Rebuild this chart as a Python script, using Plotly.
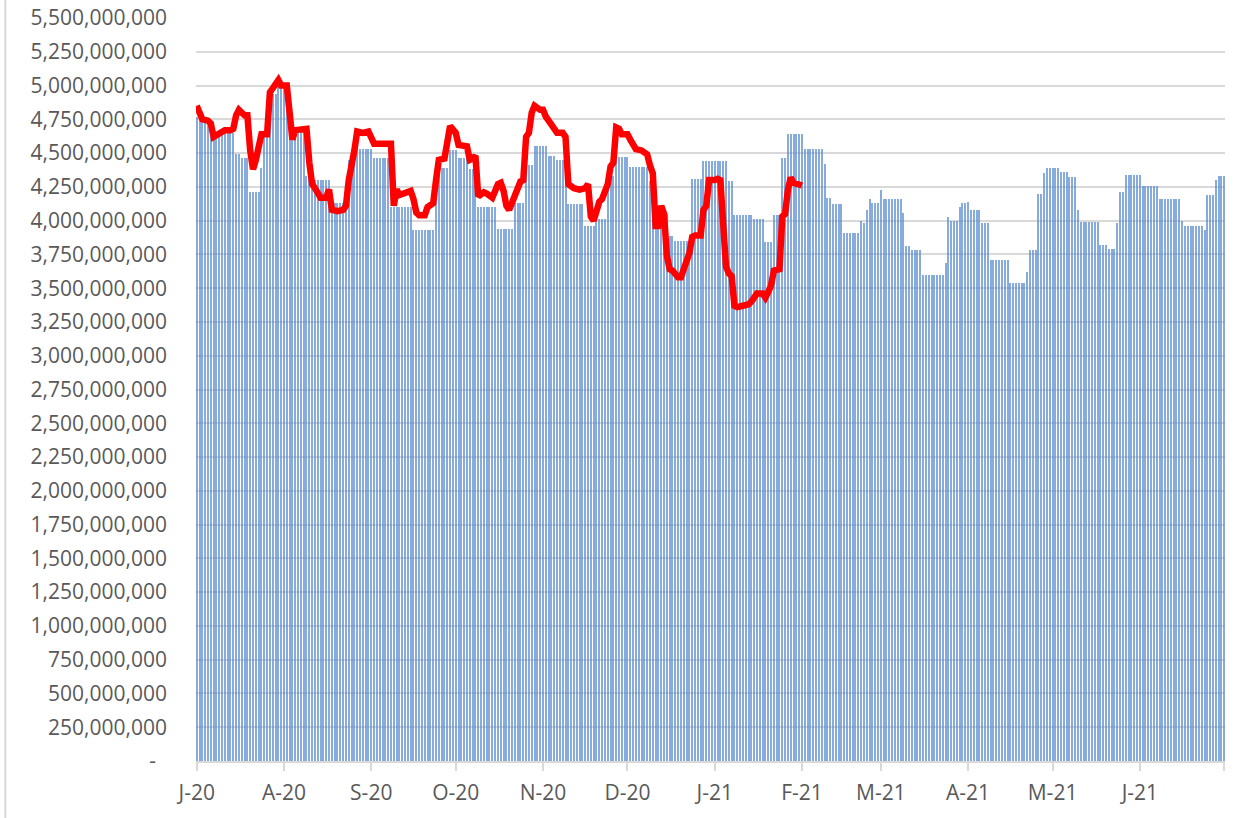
import numpy as np
import pandas as pd
import plotly.graph_objects as go

START = pd.Timestamp("2020-07-01")

# daily bars come in runs of equal value: run length (days) and value (billions)
BAR_RUN_DAYS = [2, 3, 9, 2, 3, 4, 1, 2, 3, 4, 2, 4, 3, 6, 5, 1, 3, 6, 6, 8,
                8, 5, 3, 4, 3, 7, 6, 4, 3, 5, 3, 4, 6, 4, 4, 3, 5, 7, 2, 5,
                2, 6, 4, 9, 2, 7, 4, 3, 3, 2, 6, 7, 1, 2, 4, 6, 1, 1, 1, 1,
                3, 1, 7, 1, 2, 4, 8, 1, 1, 3, 1, 2, 1, 4, 3, 7, 6, 1, 3, 2,
                1, 5, 3, 3, 1, 7, 3, 3, 1, 2, 6, 6, 8, 1, 7, 1, 3, 1, 3]
BAR_RUN_VALUES = [4.77, 4.74, 4.65, 4.49, 4.46, 4.21, 4.39, 4.64, 4.94, 5.00,
                  4.61, 4.67, 4.33, 4.30, 4.13, 4.20, 4.45, 4.53, 4.46, 4.10,
                  3.93, 4.39, 4.52, 4.46, 4.38, 4.10, 3.94, 4.13, 4.41, 4.55,
                  4.48, 4.45, 4.12, 3.96, 4.01, 4.33, 4.47, 4.40, 4.29, 4.05,
                  3.89, 3.85, 4.31, 4.44, 4.29, 4.04, 4.01, 3.84, 4.04, 4.46,
                  4.64, 4.53, 4.42, 4.17, 4.12, 3.91, 4.00, 3.98, 4.08, 4.16,
                  4.13, 4.23, 4.16, 4.06, 3.81, 3.78, 3.60, 3.69, 4.03, 4.00,
                  4.10, 4.13, 4.14, 4.08, 3.98, 3.71, 3.54, 3.62, 3.78, 4.20,
                  4.35, 4.39, 4.36, 4.32, 4.08, 3.99, 3.82, 3.79, 3.98, 4.21,
                  4.34, 4.26, 4.16, 4.00, 3.96, 3.93, 4.19, 4.30, 4.33]

# red line: day offset from 1 Jul 2020 and value (billions)
LINE_DAYS = [0, 1, 2, 4, 5, 6, 8, 10, 12, 13, 14, 15, 17, 18, 19, 20, 21, 22,
             23, 25, 26, 27, 28, 29, 30, 32, 33, 34, 35, 37, 39, 40, 41, 42,
             43, 44, 46, 47, 48, 50, 52, 53, 54, 55, 56, 57, 59, 61, 62, 63,
             66, 69, 70, 71, 72, 74, 76, 77, 78, 79, 81, 82, 84, 85, 86, 88,
             89, 90, 92, 93, 96, 97, 98, 99, 100, 102, 103, 105, 107, 108,
             109, 110, 111, 112, 114, 115, 116, 117, 118, 119, 120, 122, 123,
             124, 126, 128, 130, 131, 132, 134, 136, 138, 139, 140, 141, 143,
             144, 146, 147, 148, 149, 150, 151, 153, 154, 155, 156, 158, 160,
             161, 162, 163, 164, 165, 166, 167, 168, 169, 171, 172, 174, 175,
             176, 177, 179, 180, 181, 182, 184, 185, 186, 187, 188, 189, 190,
             191, 192, 194, 196, 197, 199, 201, 202, 203, 204, 205, 207, 208,
             209, 210, 211, 212, 213, 215]
LINE_VALUES = [4.85, 4.78, 4.75, 4.74, 4.72, 4.62, 4.64, 4.67, 4.67, 4.68,
               4.78, 4.82, 4.78, 4.78, 4.52, 4.38, 4.45, 4.53, 4.64, 4.64,
               4.95, 4.98, 5.02, 5.04, 5.00, 5.00, 4.80, 4.60, 4.67, 4.67,
               4.68, 4.43, 4.27, 4.24, 4.20, 4.17, 4.17, 4.23, 4.08, 4.07,
               4.08, 4.11, 4.30, 4.45, 4.52, 4.66, 4.65, 4.66, 4.62, 4.57,
               4.57, 4.57, 4.11, 4.23, 4.19, 4.20, 4.22, 4.16, 4.06, 4.04,
               4.04, 4.10, 4.13, 4.30, 4.45, 4.46, 4.61, 4.70, 4.65, 4.56,
               4.55, 4.45, 4.46, 4.48, 4.18, 4.21, 4.20, 4.17, 4.27, 4.28,
               4.22, 4.11, 4.08, 4.14, 4.24, 4.29, 4.30, 4.62, 4.65, 4.80,
               4.85, 4.82, 4.82, 4.77, 4.71, 4.65, 4.65, 4.62, 4.27, 4.24,
               4.23, 4.24, 4.27, 4.03, 4.00, 4.14, 4.16, 4.27, 4.40, 4.43,
               4.69, 4.68, 4.64, 4.64, 4.60, 4.56, 4.53, 4.52, 4.49, 4.41,
               4.35, 3.96, 3.96, 4.11, 4.05, 3.74, 3.64, 3.63, 3.58, 3.58,
               3.68, 3.76, 3.88, 3.89, 3.89, 4.08, 4.11, 4.30, 4.30, 4.31,
               4.30, 3.95, 3.66, 3.61, 3.59, 3.37, 3.36, 3.37, 3.38, 3.40,
               3.46, 3.46, 3.43, 3.47, 3.52, 3.63, 3.64, 4.03, 4.05, 4.23,
               4.32, 4.28, 4.27, 4.26]

MONTH_TICKS = pd.date_range("2020-07-01", "2021-06-01", freq="MS")
MONTH_LABELS = ["J-20", "A-20", "S-20", "O-20", "N-20", "D-20",
                "J-21", "F-21", "M-21", "A-21", "M-21", "J-21"]

Y_TICKS = [i * 250_000_000 for i in range(23)]
Y_LABELS = ["-\u00a0\u00a0"] + [f"{v:,}" for v in Y_TICKS[1:]]

bar_values = np.repeat(BAR_RUN_VALUES, BAR_RUN_DAYS) * 1e9
bar_dates = pd.date_range(START, periods=len(bar_values), freq="D")
line_dates = START + pd.to_timedelta(LINE_DAYS, unit="D")
line_values = np.array(LINE_VALUES) * 1e9

font = dict(family="Open Sans, sans-serif", size=21, color="#595959")

fig = go.Figure()
fig.add_trace(go.Bar(
    x=bar_dates, y=bar_values,
    width=0.36 * 86400000,
    marker=dict(color="#5B8BD0", line_width=0),
    opacity=0.72,
    showlegend=False,
))
fig.add_trace(go.Scatter(
    x=line_dates, y=line_values,
    mode="lines",
    line=dict(color="#FF0000", width=6.5),
    showlegend=False,
))

fig.update_layout(
    width=1251, height=818,
    margin=dict(l=196, r=26, t=18, b=57),
    plot_bgcolor="white",
    paper_bgcolor="white",
    font=font,
    bargap=0,
    shapes=[dict(type="line", xref="paper", yref="paper",
                 x0=-0.1853, x1=-0.1853, y0=-0.2, y1=1.1,
                 line=dict(color="#D9D9D9", width=2))],
)
fig.update_xaxes(
    type="date",
    range=["2020-06-30 18:00", "2021-07-01 06:00"],
    tickvals=list(MONTH_TICKS) + [pd.Timestamp("2021-07-01")],
    ticktext=MONTH_LABELS + [""],
    ticks="outside", ticklen=8, tickwidth=2, tickcolor="#D9D9D9",
    showline=True, linecolor="#D9D9D9", linewidth=2,
    showgrid=False,
    ticklabelstandoff=4,
    tickfont=font,
    automargin=False,
)
fig.update_yaxes(
    range=[0, 5_500_000_000],
    tickvals=Y_TICKS, ticktext=Y_LABELS,
    showgrid=True, gridcolor="#D9D9D9", gridwidth=1.5,
    zeroline=False, showline=False,
    ticks="", ticklabelstandoff=28,
    tickfont=font,
    automargin=False,
)

fig.write_html("out.html", config={"displayModeBar": False},
               post_script="document.body.style.margin='0';")
